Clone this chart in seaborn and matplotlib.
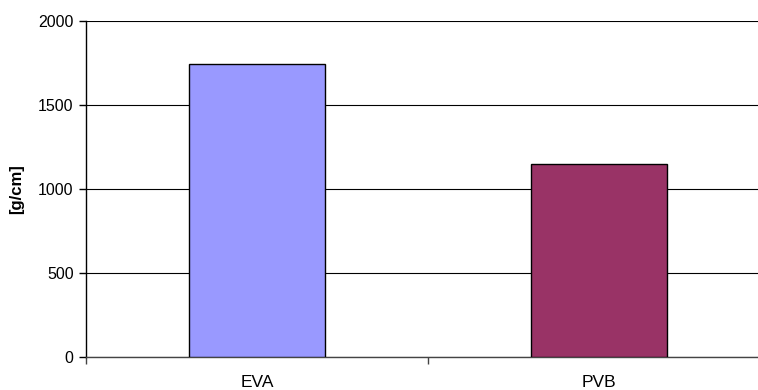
import matplotlib
matplotlib.use("Agg")
import matplotlib.pyplot as plt
import seaborn as sns
import pandas as pd

# Peel strength of the two interlayer materials
materials = ["EVA", "PVB"]
strength = [1744, 1150]
bar_colors = ["#9999FF", "#993366"]
y_ticks = [0, 500, 1000, 1500, 2000]

df = pd.DataFrame({"material": materials, "strength": strength})

sns.set_style("white")
plt.rcParams["font.family"] = ["Liberation Sans", "DejaVu Sans"]
plt.rcParams["text.color"] = "black"
plt.rcParams["xtick.color"] = "black"
plt.rcParams["ytick.color"] = "black"
plt.rcParams["axes.labelcolor"] = "black"

fig = plt.figure(figsize=(7.58, 3.90), dpi=100)
W, H = 758, 390
ax = fig.add_axes([86 / W, (H - 357) / H, 684 / W, 336 / H])

sns.barplot(data=df, x="material", y="strength", hue="material",
            palette=bar_colors, saturation=1, width=0.4,
            edgecolor="black", linewidth=1.0,
            legend=False, ax=ax, zorder=3)

ax.set_xlim(-0.5, 1.5)
ax.set_ylim(0, 2000)
ax.set_yticks(y_ticks)
ax.set_yticklabels([str(v) for v in y_ticks], fontsize=11.5)
ax.yaxis.grid(True, color="black", linewidth=0.8, zorder=0)
ax.set_axisbelow(True)

for side in ["top", "right"]:
    ax.spines[side].set_visible(False)
ax.spines["left"].set_color("black")
ax.spines["left"].set_linewidth(1.0)
ax.spines["bottom"].set_color("#444444")
ax.spines["bottom"].set_linewidth(1.0)

ax.tick_params(axis="y", direction="out", length=5, width=1, color="black",
               left=True, pad=4)
ax.tick_params(axis="x", which="major", length=0, pad=13, labelsize=12.5)
ax.set_xticks([-0.5, 0.5, 1.5], minor=True)
ax.tick_params(axis="x", which="minor", direction="out", length=5, width=1,
               color="#444444", bottom=True)

ax.set_xlabel("")
ax.set_ylabel("[g/cm]", fontsize=12, fontweight="bold", labelpad=10)

fig.savefig("out.png", dpi=100)
